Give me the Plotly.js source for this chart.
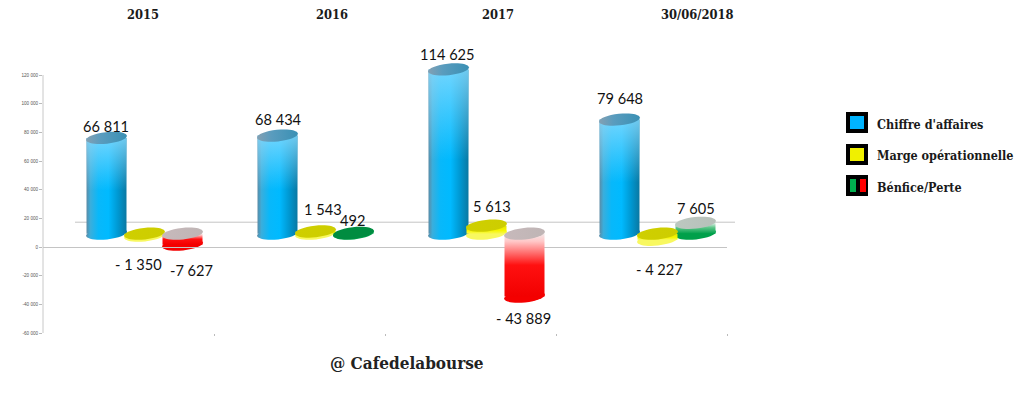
<!DOCTYPE html>
<html><head><meta charset="utf-8">
<script src="https://cdn.plot.ly/plotly-3.0.1.min.js"></script>
<style>html,body{margin:0;padding:0;background:#fff}#c{width:1024px;height:413px}</style>
</head><body><div id="c"></div>
<script>
const categories = ['2015','2016','2017','30/06/2018'];
const chiffre = [66811,68434,114625,79648];
const marge = [-1350,1543,5613,-4227];
const benefice = [-7627,492,-43889,7605];
const chiffreLabels = ['66 811','68 434','114 625','79 648'];
const margeLabels = ['- 1 350','1 543','5 613','- 4 227'];
const beneficeLabels = ['-7 627','492','- 43 889','7 605'];
const seriesNames = ["Chiffre d'affaires",'Marge opérationnelle','Bénfice/Perte'];
const yTicks = [120000,100000,80000,60000,40000,20000,0,-20000,-40000,-60000];
const yTickText = ['120 000','100 000','80 000','60 000','40 000','20 000','0','-20 000','-40 000','-60 000'];

// frame, in px
const W=1024,H=413,L=43,R=727,T=45,axisTop=75,B=333;
const catW=(R-L)/4, barW=40, step=38, depthX=16, depthY=13.3, rx=20.5, ry=5.8, tilt=-6*Math.PI/180;
const tickMax=120000,yMin=-60000,pxPer=(B-axisTop)/(tickMax-yMin);
const yMax=tickMax+(axisTop-T)/pxPer;
const px=v=>(v-L)/(R-L), py=v=>1-(v-T)/(B-T);
const n=categories.length, xs=categories.map((_,i)=>i);
const depthYU=depthY/pxPer;
const series=[chiffre,marge,benefice];
const labels=[chiffreLabels,margeLabels,beneficeLabels];
// label centres in px for each series/category
const labelX=[[106,278,447,620],[138,323,492,659],[191,352,523,696]];
const labelY=[[126,120,55,98],[264,209,207,269],[271,221,318,208]];

const colours=[['#00b4f4'],['#e8e800'],benefice.map(v=>v<0?'#ff0000':'#00a650')];
const traces=series.map((vals,s)=>({
  type:'bar',x:xs,y:vals,xaxis:'x2',yaxis:'y2',
  width:barW/catW,offset:(step*(s-1)-barW/2)/catW,
  marker:{color:colours[s].length>1?colours[s]:colours[s][0],line:{width:0}},
  name:seriesNames[s],hoverinfo:'y'
}));
// invisible trace keeps the primary axes live
traces.push({type:'scatter',x:xs,y:xs.map(()=>0),mode:'none',xaxis:'x',yaxis:'y',hoverinfo:'skip',showlegend:false});

function ellipsePath(cxShift){
  const k=0.5523,c=Math.cos(tilt),sn=Math.sin(tilt);
  const p=(a,b)=>{const X=a*c-b*sn,Y=a*sn+b*c;return (X+cxShift).toFixed(2)+','+(-Y).toFixed(2);};
  return 'M'+p(rx,0)+' C'+p(rx,ry*k)+' '+p(rx*k,ry)+' '+p(0,ry)+
    ' C'+p(-rx*k,ry)+' '+p(-rx,ry*k)+' '+p(-rx,0)+
    ' C'+p(-rx,-ry*k)+' '+p(-rx*k,-ry)+' '+p(0,-ry)+
    ' C'+p(rx*k,-ry)+' '+p(rx,-ry*k)+' '+p(rx,0)+' Z';
}
const shapes=[], shapeTag=[];
function addShape(o,tag){shapes.push(o);shapeTag.push(tag);}
// y axis line and back wall line
const wallValue=17300;
addShape({type:'line',xref:'paper',yref:'y',x0:0,x1:0,y0:yMin,y1:tickMax,line:{color:'#c8c8c8',width:1},layer:'below'},null);
addShape({type:'line',xref:'paper',yref:'y',x0:px(75),x1:px(735),y0:wallValue,y1:wallValue,line:{color:'#c4c4c4',width:1},layer:'below'},null);
// bottoms and tops of the cylinders
series.forEach((vals,s)=>vals.forEach((v,i)=>{
  const kind=s===0?'blue':s===1?'yellow':(v<0?'red':'green');
  const lo=Math.min(v,0), hi=Math.max(v,0);
  const flat=s===2&&Math.abs(v)<1000;
  const common={type:'path',xref:'x2',yref:'y2',xsizemode:'pixel',ysizemode:'pixel',xanchor:i,line:{width:0}};
  addShape(Object.assign({},common,{yanchor:lo,path:ellipsePath(step*(s-1)),fillcolor:colours[s][s===2?i:0],layer:'below'}),kind+'Body');
  addShape(Object.assign({},common,{yanchor:hi,path:ellipsePath(step*(s-1)),fillcolor:'#888',layer:'above'}),flat?'greenFlat':kind+'Top');
}));
// legend swatches
const swatchY=[112,144,175];
swatchY.forEach((y,s)=>{
  addShape({type:'rect',xref:'paper',yref:'paper',x0:px(846),x1:px(868),y0:py(y),y1:py(y+21),fillcolor:'#000',line:{width:0}},null);
  if(s<2) addShape({type:'rect',xref:'paper',yref:'paper',x0:px(850),x1:px(864),y0:py(y+4),y1:py(y+17),fillcolor:s?'#f0f000':'#00b4ff',line:{width:0}},null);
});
addShape({type:'rect',xref:'paper',yref:'paper',x0:px(850),x1:px(856),y0:py(179),y1:py(192),fillcolor:'#00b050',line:{width:0}},null);
addShape({type:'rect',xref:'paper',yref:'paper',x0:px(860),x1:px(866),y0:py(179),y1:py(192),fillcolor:'#ff0000',line:{width:0}},null);

const anns=[];
const serif='"DejaVu Serif Condensed","DejaVu Serif",serif';
const headerX=[143,332,498,697];
categories.forEach((c,i)=>anns.push({xref:'paper',yref:'paper',x:px(headerX[i]),y:py(15),text:'<b>'+c+'</b>',showarrow:false,xanchor:'center',yanchor:'middle',font:{family:serif,size:12.8,color:'#1a1a1a'}}));
const legendY=[124,155,187];
seriesNames.forEach((t,i)=>anns.push({xref:'paper',yref:'paper',x:px(875),y:py(legendY[i]),text:'<b>'+t+'</b>',showarrow:false,xanchor:'left',yanchor:'middle',font:{family:serif,size:12.5,color:'#1a1a1a'}}));
anns.push({xref:'paper',yref:'paper',x:px(406.5),y:py(363),text:'<b>@ Cafedelabourse</b>',showarrow:false,xanchor:'center',yanchor:'middle',font:{family:serif,size:17,color:'#222'}});
series.forEach((vals,s)=>vals.forEach((v,i)=>{
  const ax=L+catW*(i+0.5), ay=T+(yMax-v)*pxPer;
  anns.push({xref:'x',yref:'y',x:i,y:v,text:labels[s][i],showarrow:false,xanchor:'center',yanchor:'middle',
    xshift:labelX[s][i]-ax,yshift:ay-labelY[s][i],font:{family:'Lato, sans-serif',size:14.6,color:'#111'}});
}));

const axisBase={showgrid:false,zeroline:false};
const layout={
  width:W,height:H,margin:{l:L,r:W-R,t:T,b:H-B,pad:0},paper_bgcolor:'#fff',plot_bgcolor:'rgba(0,0,0,0)',
  barmode:'overlay',showlegend:false,hovermode:false,
  xaxis:Object.assign({},axisBase,{range:[-0.5,n-0.5],tickmode:'array',tickvals:[0.5,1.5,2.5,3.5],ticktext:['','','',''],ticks:'outside',ticklen:2,tickcolor:'#bbb',showline:false,anchor:'y',position:0}),
  yaxis:Object.assign({},axisBase,{range:[yMin,yMax],tickmode:'array',tickvals:yTicks,ticktext:yTickText,ticks:'outside',ticklen:3,tickcolor:'#bbb',tickwidth:1,showline:false,tickfont:{family:'Liberation Sans, sans-serif',size:4.6,color:'#555'},zeroline:true,zerolinecolor:'#c4c4c4',zerolinewidth:1}),
  xaxis2:Object.assign({},axisBase,{overlaying:'x',anchor:'y2',range:[-0.5-depthX/catW,n-0.5-depthX/catW],visible:false}),
  yaxis2:Object.assign({},axisBase,{overlaying:'y',anchor:'x2',range:[yMin-depthYU,yMax-depthYU],visible:false}),
  shapes:shapes,annotations:anns
};

Plotly.newPlot('c',traces,layout,{displayModeBar:false,staticPlot:true}).then(gd=>{
  const NS='http://www.w3.org/2000/svg';
  const svg=gd.querySelector('.main-svg');
  const defs=svg.querySelector('defs')||svg.insertBefore(document.createElementNS(NS,'defs'),svg.firstChild);
  function grad(id,dir,stops){
    const g=document.createElementNS(NS,'linearGradient');g.id=id;
    g.setAttribute('x1',0);g.setAttribute('y1',0);g.setAttribute('x2',dir==='h'?1:0);g.setAttribute('y2',dir==='h'?0:1);
    stops.forEach(([o,c,a])=>{const st=document.createElementNS(NS,'stop');st.setAttribute('offset',o);st.setAttribute('stop-color',c);if(a!==undefined)st.setAttribute('stop-opacity',a);g.appendChild(st);});
    defs.appendChild(g);
  }
  grad('blueBody','h',[[0,'#5b8ba6'],[.1,'#3aaedc'],[.3,'#08b8fa'],[.55,'#00baff'],[.8,'#0096cf'],[1,'#0a78a2']]);
  grad('blueShine','v',[[0,'#8adcff',.8],[.55,'#8adcff',0],[1,'#8adcff',0]]);
  grad('blueTop','h',[[0,'#84a0b2'],[.35,'#5a9cbe'],[1,'#3a90b4']]);
  grad('yellowBody','v',[[0,'#e4e400'],[.6,'#f6f600'],[1,'#f8f850']]);
  grad('yellowTop','h',[[0,'#cfcf00'],[1,'#cdcd00']]);
  grad('redBody','v',[[0,'#f2e8e8'],[.12,'#ffc8c8'],[.5,'#ff1010'],[1,'#f20000']]);
  grad('redTop','h',[[0,'#c7b9bb'],[1,'#bfb5b5']]);
  grad('greenBody','v',[[0,'#e8f2ec'],[.45,'#5cc488'],[1,'#00a04a']]);
  grad('greenTop','h',[[0,'#bcc8c0'],[1,'#b8c0ba']]);
  grad('greenFlat','h',[[0,'#008c40'],[1,'#008c40']]);
  shapes.forEach((sh,i)=>{
    const t=shapeTag[i]; if(!t) return;
    gd.querySelectorAll('.shapelayer path[data-index="'+i+'"]').forEach(el=>{
      if(t==='yellowBody') el.style.fill='#f8f860';
      else if(t==='redBody') el.style.fill='#f40000';
      else if(t==='greenBody') el.style.fill='#00a04a';
      else el.style.fill='url(#'+t+')';
      el.style.fillOpacity=1;
    });
  });
  [...svg.querySelectorAll('.barlayer .trace')].forEach((tr,s)=>{
    [...tr.querySelectorAll('.point path')].forEach((p,i)=>{
      const kind=s===0?'blue':s===1?'yellow':(benefice[i]<0?'red':'green');
      p.style.fill='url(#'+kind+'Body)';
      if(s===0){const c=p.cloneNode();c.style.fill='url(#blueShine)';p.parentNode.appendChild(c);}
    });
  });
});
</script></body></html>
